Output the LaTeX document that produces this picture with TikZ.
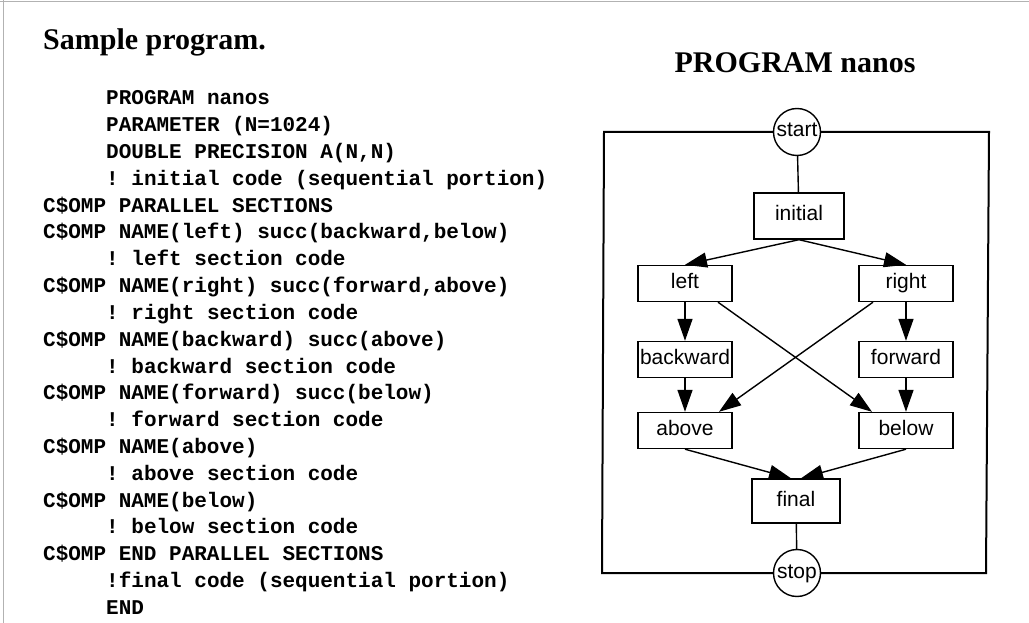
\documentclass[tikz,border=0pt]{standalone}
\usepackage{fontspec}
\setmainfont{Liberation Serif}
\setsansfont{Liberation Sans}
\setmonofont{Liberation Mono}
\usetikzlibrary{arrows.meta,calc}

\begin{document}
\begin{tikzpicture}[x=1pt,y=-1pt,
  box/.style={draw,line width=1.4pt,fill=white,minimum width=94pt,minimum height=36pt,inner sep=0pt,
    text height=14pt,text depth=4pt,font=\sffamily\fontsize{21}{24}\selectfont},
  term/.style={draw,circle,line width=1.4pt,fill=white,minimum size=47pt,inner sep=0pt,
    text height=14pt,text depth=4pt,font=\sffamily\fontsize{21}{24}\selectfont},
  flow/.style={line width=1.4pt,-{Triangle[length=22pt,width=15pt]}},
  link/.style={line width=1.4pt},
  frame/.style={line width=2pt},
  code/.style={anchor=base west,inner sep=0pt,font=\ttfamily\bfseries\fontsize{21}{24}\selectfont},
  heading/.style={inner sep=0pt,font=\rmfamily\bfseries\fontsize{30}{36}\selectfont}]
\useasboundingbox (0,0) rectangle (1029,623);
\fill[white] (0,0) rectangle (1029,623);
% page edge
\draw[gray!60,line width=1pt] (0,2) -- (1029,2) (3,0) -- (3,623);

% headings
\node[heading,anchor=base west] (title) at (43,50) {Sample program.};
\node[heading,anchor=base] (gtitle) at (795,73) {PROGRAM nanos};

% source listing
\foreach \ind/\txt [count=\i] in {
  106/{PROGRAM nanos},
  106/{PARAMETER (N=1024)},
  106/{DOUBLE PRECISION A(N,N)},
  106/{! initial code (sequential portion)},
  43/{C\$OMP PARALLEL SECTIONS},
  43/{C\$OMP NAME(left) succ(backward,below)},
  106/{! left section code},
  43/{C\$OMP NAME(right) succ(forward,above)},
  106/{! right section code},
  43/{C\$OMP NAME(backward) succ(above)},
  106/{! backward section code},
  43/{C\$OMP NAME(forward) succ(below)},
  106/{! forward section code},
  43/{C\$OMP NAME(above)},
  106/{! above section code},
  43/{C\$OMP NAME(below)},
  106/{! below section code},
  43/{C\$OMP END PARALLEL SECTIONS},
  106/{!final code (sequential portion)},
  106/{END}}
  \node[code] (c\i) at (\ind,{105+(\i-1)*26.8}) {\txt};

% task graph
\node[term] (start) at (797,132) {start};
\node[box,minimum width=90pt,minimum height=46pt] (initial) at (799,216) {initial};
\node[box] (left) at (685,283.5) {left};
\node[box] (right) at (906,283.5) {right};
\node[box] (backward) at (685,359.5) {backward};
\node[box] (forward) at (906,359.5) {forward};
\node[box] (above) at (685,430.5) {above};
\node[box] (below) at (906,430.5) {below};
\node[box,minimum width=88pt,minimum height=44pt] (final) at (796,501) {final};
\node[term] (stop) at (797,573) {stop};

% enclosing frame through start and stop
\coordinate (ftl) at (604,132);
\coordinate (ftr) at (989,132);
\coordinate (fbl) at (602,573);
\coordinate (fbr) at (986,573);
\draw[frame] (start.west) -- (ftl) -- (fbl) -- (stop.west);
\draw[frame] (start.east) -- (ftr) -- (fbr) -- (stop.east);

% edges
\draw[link] (start) -- (initial);
\draw[flow] (initial.south) -- (left.north);
\draw[flow] (initial.south) -- (right.north);
\draw[flow] (left) -- (backward);
\draw[flow] (right) -- (forward);
\draw[flow] ([xshift=33pt]left.south) -- ([xshift=-34pt]below.north);
\draw[flow] ([xshift=-33pt]right.south) -- ([xshift=34pt]above.north);
\draw[flow] (backward) -- (above);
\draw[flow] (forward) -- (below);
\draw[flow] (above.south) -- ([xshift=-5pt]final.north);
\draw[flow] (below.south) -- ([xshift=5pt]final.north);
\draw[link] (final) -- (stop);
\end{tikzpicture}
\end{document}
